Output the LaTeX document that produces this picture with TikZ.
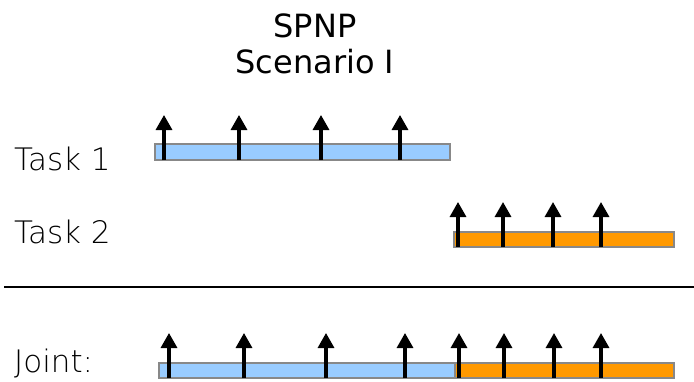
\documentclass[tikz,border=0pt]{standalone}
\usepackage{fontspec}
\setmainfont{DejaVu Sans}
\newfontfamily\lightfont{DejaVu Sans ExtraLight}
\usetikzlibrary{arrows.meta}
\definecolor{barblue}{HTML}{99CCFF}
\definecolor{barorange}{HTML}{FF9900}
\definecolor{bargray}{HTML}{888888}
\tikzset{
  bar/.style={draw=bargray, line width=2pt},
  evt/.style={line width=3.2pt, -{Triangle[width=16pt,length=15pt]}},
  lbl/.style={anchor=base west, inner sep=0pt, font=\lightfont\fontsize{31}{31}\selectfont},
  ttl/.style={anchor=base, inner sep=0pt, font=\fontsize{32}{32}\selectfont},
}
\begin{document}
\begin{tikzpicture}[x=1pt,y=-1pt]
\useasboundingbox (0,0) rectangle (694,381);
\node[ttl] (title1) at (315,37) {SPNP};
\node[ttl] (title2) at (315,73) {Scenario I};
\node[lbl] (t1) at (14,170) {Task 1};
\node[lbl] (t2) at (14,243) {Task 2};
\node[lbl] (jt) at (14,372) {Joint:};
% Task 1
\filldraw[bar, fill=barblue] (155,144) rectangle (450,160);
\foreach \x in {164,239,321,400} \draw[evt] (\x,160) -- (\x,115);
% Task 2
\filldraw[bar, fill=barorange] (454,232) rectangle (674,247);
\foreach \x in {458,503,553,601} \draw[evt] (\x,247) -- (\x,202);
% divider
\draw[line width=2.7pt] (4,287) -- (694,287);
% Joint
\filldraw[bar, fill=barblue] (159,363) rectangle (455,378);
\filldraw[bar, fill=barorange] (455,363) rectangle (674,378);
\foreach \x in {169,244,326,405,459,504,554,601} \draw[evt] (\x,378) -- (\x,333);
\end{tikzpicture}
\end{document}
